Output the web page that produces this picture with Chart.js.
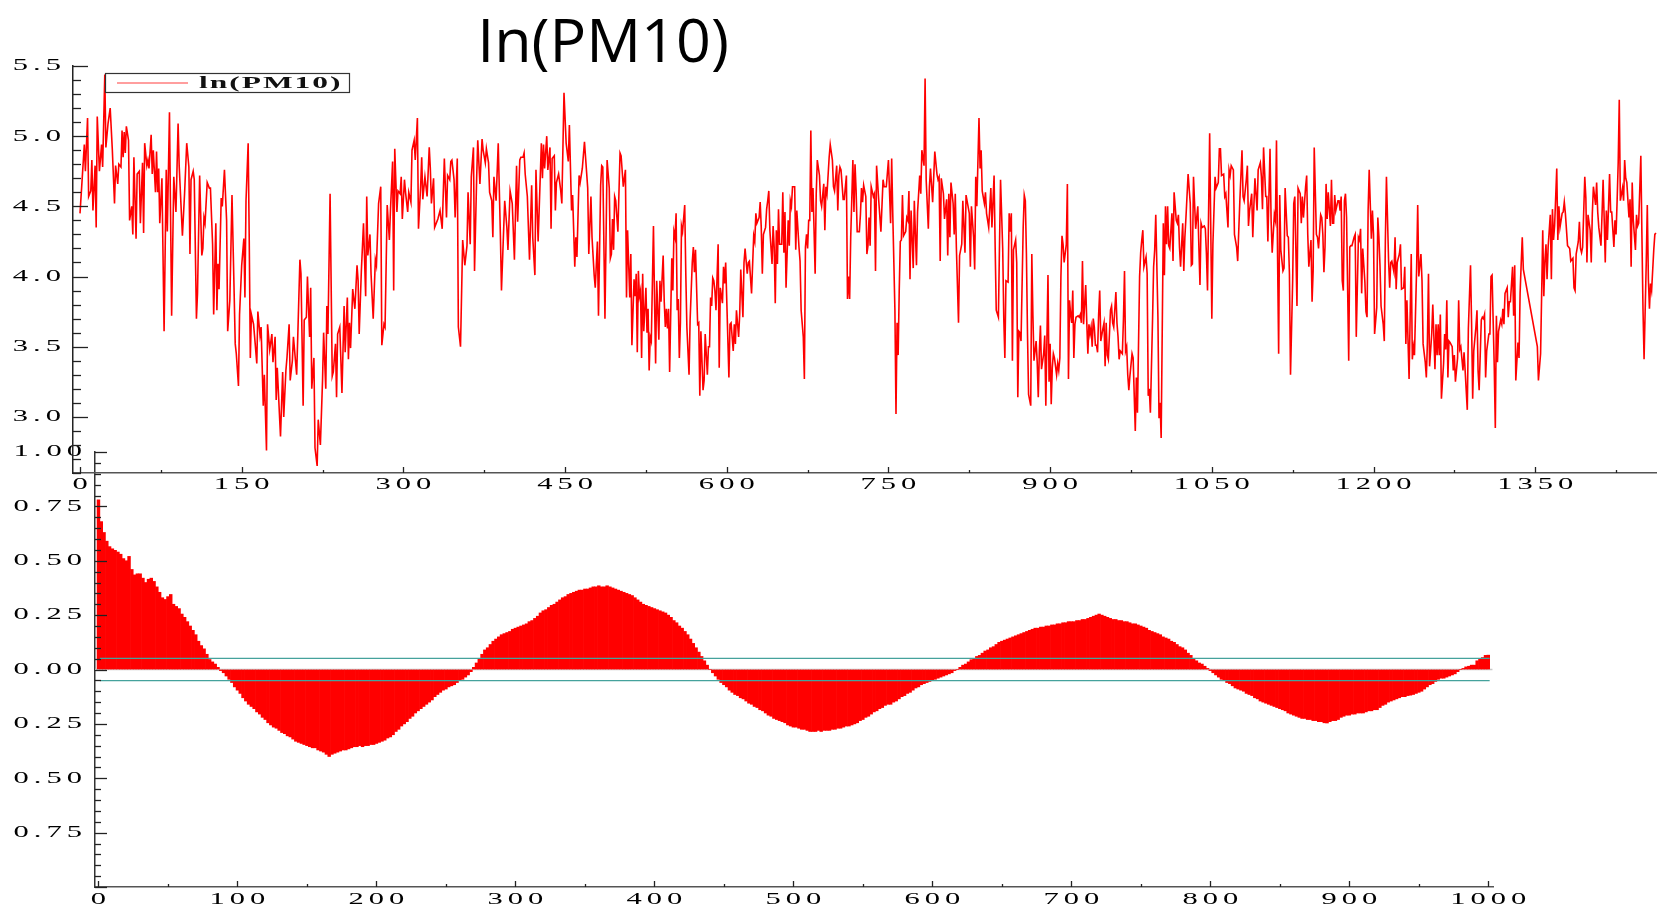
<!DOCTYPE html>
<html>
<head>
<meta charset="utf-8">
<title>In(PM10)</title>
<script src="https://cdn.jsdelivr.net/npm/chart.js@4.4.1/dist/chart.umd.min.js"></script>
<style>
  body { margin: 0; background: #fff; }
  #pagina { position: relative; width: 1657px; height: 911px; overflow: hidden; background: #fff; }
  #pagina canvas { position: absolute; left: 0; top: 0; }
  #titulo { position: absolute; left: 403px; top: 8px; width: 400px; text-align: center;
            font-family: "Open Sans", "Noto Sans", sans-serif; font-size: 61px; line-height: 61px; color: #000; }
</style>
</head>
<body>
<div id="pagina">
  <canvas id="graficoAcf" width="1657" height="911"></canvas>
  <canvas id="graficoSerie" width="1657" height="911"></canvas>
  <div id="titulo">In(PM10)</div>
</div>
<script>
// Série diária ln(PM10)
const dias = [0,4,5,7,8,10,11,12,14,15,16,18,20,21,23,24,26,28,30,32,33,35,36,38,39,40,41,42,43,45,46,48,49,50,52,53,55,56,58,59,60,62,63,64,66,67,68,70,71,72,73,74,76,78,80,81,83,85,87,89,91,92,95,97,99,101,102,103,105,106,108,109,111,113,114,115,116,118,120,121,123,124,126,127,128,129,131,132,134,136,137,139,141,143,144,145,147,148,150,152,153,154,156,157,158,159,161,162,164,165,167,168,170,171,173,174,176,178,179,181,182,183,185,186,188,189,191,192,194,195,197,198,201,202,204,205,207,208,210,211,213,214,215,217,218,220,221,223,225,226,228,229,230,232,234,235,237,238,239,
241,243,245,246,248,249,250,251,253,255,257,258,259,261,263,265,266,267,269,270,272,274,275,277,279,280,282,283,285,287,288,290,291,292,294,295,297,298,299,301,302,304,305,307,308,310,311,313,314,316,317,318,320,322,324,325,326,328,329,332,334,336,338,340,341,343,344,345,347,348,350,351,353,355,357,359,360,362,363,365,366,368,369,371,373,374,376,377,379,380,382,383,384,386,388,390,391,393,394,396,397,399,401,403,405,406,408,409,411,412,413,415,417,419,420,422,423,425,428,429,430,431,433,434,436,437,438,440,441,442,444,446,447,449,451,453,454,456,457,459,460,461,463,464,466,468,469,471,472,474,475,477,478,480,481,483,
484,485,487,489,491,492,493,494,495,496,497,499,501,502,503,504,506,507,508,510,511,512,514,515,516,517,518,519,520,521,522,523,525,526,527,528,529,530,532,533,534,535,537,538,539,541,542,543,544,545,546,547,549,550,551,552,553,554,555,556,557,558,559,561,562,563,565,566,568,569,570,571,573,574,575,576,578,579,580,582,583,584,585,586,587,588,589,590,592,593,594,596,597,598,599,600,602,603,604,606,607,608,609,611,612,613,615,616,617,619,620,621,623,625,626,627,628,630,631,632,633,634,636,637,638,639,640,642,643,644,645,646,647,648,649,651,652,653,654,655,657,658,659,660,661,663,664,665,667,668,669,671,672,673,674,675,676,677,678,679,680,682,683,684,686,687,688,690,691,692,693,695,696,698,699,700,702,703,704,705,706,708,709,711,712,713,714,715,717,718,719,720,721,723,724,725,726,
727,729,730,731,732,733,734,736,737,738,739,741,743,745,746,748,750,752,753,754,756,757,758,759,760,761,762,763,764,766,767,768,769,770,771,773,774,776,777,779,780,781,783,784,785,787,788,789,791,793,795,796,797,798,799,801,802,804,805,806,807,808,810,811,812,813,815,816,818,819,821,822,825,826,827,829,830,831,832,834,835,836,837,839,840,841,843,845,846,848,849,850,852,853,854,856,857,858,859,861,862,863,864,865,866,868,869,870,871,872,873,875,876,877,878,879,880,882,883,884,885,887,888,889,890,891,892,894,895,896,898,899,900,901,902,903,904,906,907,908,909,910,911,912,913,915,916,917,918,919,920,921,922,923,924,926,927,928,929,930,931,933,934,935,936,937,938,939,940,941,942,943,944,945,946,947,949,950,951,952,953,954,956,957,958,959,961,962,963,964,965,967,968,969,
970,971,972,973,974,976,977,979,980,981,983,984,985,986,987,989,990,991,992,993,995,996,997,998,1000,1001,1002,1003,1005,1006,1007,1008,1009,1010,1011,1013,1014,1015,1017,1018,1019,1020,1021,1023,1024,1025,1026,1028,1030,1031,1032,1033,1034,1035,1037,1038,1039,1040,1041,1043,1044,1045,1046,1048,1050,1051,1053,1054,1056,1057,1058,1059,1061,1062,1063,1065,1066,1067,1068,1070,1071,1073,1074,1075,1076,1078,1079,1080,1082,1083,1084,1085,1087,1088,1089,1090,1092,1093,1095,1096,1097,1098,1100,1101,1102,1104,1105,1106,1108,1109,1110,1111,1112,1113,1114,1116,1117,1118,1120,1121,1122,1123,1125,1126,1127,1129,1130,1132,1133,1134,1135,1137,1138,1139,1140,1142,1143,1144,1145,1147,1148,1149,1151,1152,1153,1154,1155,1156,1157,1158,1160,1161,1162,1163,1164,1165,1167,1168,1169,1170,1171,1172,1173,1174,1175,1177,1178,1179,1180,1182,1183,1184,1186,1187,1188,1189,1190,1192,1193,1194,1195,1196,1198,1199,1200,1201,1203,1204,1205,1206,1207,1209,1210,1211,1212,
1214,1215,1216,1217,1219,1220,1221,1222,1224,1225,1226,1228,1229,1230,1231,1233,1235,1236,1237,1238,1240,1241,1242,1244,1245,1246,1248,1249,1250,1251,1252,1254,1255,1257,1258,1259,1260,1261,1262,1263,1265,1266,1267,1268,1269,1270,1271,1273,1274,1275,1276,1278,1279,1280,1281,1283,1284,1285,1287,1288,1290,1291,1292,1293,1295,1296,1297,1298,1300,1301,1302,1303,1304,1305,1307,1308,1309,1310,1312,1313,1314,1315,1316,1318,1319,1320,1321,1322,1324,1325,1326,1327,1329,1330,1331,1332,1334,1335,1336,1337,1338,1339,1352,1353,1355,1356,1357,1358,1359,1360,1361,1362,1364,1365,1366,1367,1368,1370,1371,1372,1373,1375,1376,1377,1378,1380,1381,1382,1383,1385,1386,1387,1388,1390,1391,1392,1393,1394,1396,1397,1398,1399,1401,1402,1403,1404,1406,1407,1408,1409,1411,1412,1413,1414,1415,1416,1417,1419,1420,1421,1423,1424,1425,1426,1427,1428,1429,1431,1432,1433,1434,1435,1437,1438,1439,1440,1441,1443,1444,1445,1446,1448,1449,1450,1451,1453,1454,1455,1456,1457,1458,1460,1461,1462];

const lnPm10 = [4.45,4.94,4.75,5.13,4.57,4.61,4.83,4.47,4.79,4.35,5.14,4.75,4.94,4.78,5.44,4.92,5.09,5.20,4.90,4.52,4.79,4.66,4.80,4.78,5.04,4.85,5.03,4.88,5.07,4.97,4.40,4.50,4.30,4.85,4.27,4.73,4.75,4.38,4.81,4.31,4.95,4.79,4.83,4.77,5.01,4.73,4.90,4.60,4.89,4.60,4.77,4.38,4.70,3.61,4.76,4.32,5.17,3.72,4.71,4.46,5.09,4.79,4.29,4.59,4.95,4.78,4.16,4.69,4.75,4.69,3.70,3.88,4.72,4.15,4.20,4.42,4.38,4.67,4.63,4.63,4.23,3.73,4.38,3.76,4.09,3.91,4.56,4.50,4.76,4.40,3.61,3.83,4.58,3.88,3.52,3.45,3.22,3.73,4.08,4.27,3.85,4.54,4.95,4.26,3.42,3.73,3.66,3.57,3.38,3.75,3.58,3.64,3.08,3.30,2.76,3.66,3.48,3.59,3.39,3.57,3.12,3.35,3.02,2.86,3.32,3.00,3.33,3.42,3.66,3.26,3.40,3.57,3.30,3.57,4.12,4.02,3.08,3.69,3.71,4.00,3.57,3.92,3.20,3.42,2.78,2.65,2.98,2.80,3.26,3.60,3.20,3.79,3.59,4.59,3.29,3.32,3.52,3.14,3.59,
3.64,3.17,3.79,3.46,3.85,3.41,3.67,3.49,3.91,3.77,4.08,3.97,3.59,4.04,4.38,3.86,4.57,4.15,4.30,4.02,3.70,4.12,4.08,4.52,4.64,3.51,3.66,3.64,4.51,4.26,4.47,4.82,3.90,4.91,4.46,4.61,4.59,4.71,4.41,4.69,4.60,4.46,4.60,4.53,4.90,4.97,4.83,5.13,4.34,4.64,4.85,4.55,4.71,4.57,4.92,4.77,4.52,4.70,4.35,4.41,4.47,4.34,4.84,4.42,4.72,4.69,4.82,4.83,4.69,4.42,4.84,3.64,3.50,4.26,4.08,4.22,4.60,4.23,4.71,4.92,4.04,4.71,4.97,4.66,4.98,4.90,4.81,4.91,4.81,4.60,4.54,4.28,4.71,4.54,4.95,4.29,3.90,4.33,4.54,4.35,4.19,4.61,4.52,4.12,4.79,4.39,4.83,4.85,4.85,4.88,4.73,4.57,4.12,4.65,4.28,4.01,4.76,4.25,4.95,4.70,4.94,4.77,5.00,4.76,4.92,4.34,4.84,4.86,4.47,4.67,4.73,4.61,4.52,5.31,4.95,4.82,5.08,4.47,4.58,4.07,4.28,4.14,4.72,4.67,4.77,4.96,4.85,4.63,4.16,4.57,4.28,4.01,3.92,4.25,3.72,4.65,
4.79,4.78,3.70,4.83,4.63,4.13,4.16,4.41,4.19,4.57,4.54,4.32,4.88,4.86,4.75,4.64,4.76,3.85,4.33,3.85,4.16,3.51,3.98,3.86,4.02,3.46,4.04,3.86,3.90,3.42,4.02,3.61,3.92,3.60,3.77,3.33,3.57,3.54,4.36,3.83,3.38,3.97,3.55,3.97,3.82,4.15,3.82,3.64,3.77,3.63,3.77,3.32,4.13,3.90,4.32,4.28,4.45,3.76,3.84,3.42,3.67,4.36,4.32,4.51,4.02,3.64,3.30,3.69,4.10,4.21,4.03,4.19,3.66,3.67,3.15,3.61,3.19,3.26,3.59,3.30,3.50,3.50,3.85,3.79,3.99,3.97,3.90,3.76,4.23,3.35,3.92,3.81,4.07,3.95,4.10,3.83,3.28,3.66,3.67,3.47,3.66,3.52,3.76,3.57,3.73,4.05,3.71,4.10,4.20,4.02,4.10,4.11,3.88,4.29,4.25,4.45,4.38,4.42,4.53,4.35,4.02,4.30,4.35,4.48,4.54,4.61,4.33,4.09,4.36,4.21,3.81,4.33,4.09,4.48,4.23,4.23,4.60,4.17,4.46,3.92,4.40,4.22,4.54,4.50,4.64,4.64,4.19,4.47,4.21,4.11,3.76,3.57,3.27,4.21,4.30,4.20,4.40,4.40,5.04,4.46,4.63,4.02,4.59,4.83,4.72,4.54,4.50,4.66,4.33,4.64,4.59,4.85,4.94,4.83,4.64,4.61,4.79,4.47,4.72,4.78,4.76,4.55,4.55,4.72,3.84,4.00,3.84,4.28,4.83,4.46,4.80,4.61,4.32,4.32,4.44,4.63,4.53,
4.65,4.57,4.16,4.22,4.42,4.22,4.64,4.57,4.59,4.04,4.79,4.54,4.32,4.69,4.64,4.64,4.83,4.38,4.84,4.45,3.76,3.02,3.67,3.44,3.90,4.25,4.26,4.58,4.29,4.32,4.42,4.40,4.61,3.98,4.47,4.06,4.54,4.08,4.46,4.72,4.59,4.90,4.79,5.41,4.69,4.34,4.64,4.77,4.53,4.89,4.73,4.69,4.71,4.11,4.70,4.59,4.41,4.55,4.15,4.59,4.28,4.67,4.52,4.30,4.59,4.21,3.67,4.15,4.23,4.54,4.17,4.58,4.45,4.07,4.50,4.28,4.05,4.71,4.50,5.13,4.77,4.90,4.61,4.52,4.60,4.45,4.35,4.63,4.35,4.72,4.21,3.76,3.71,4.21,4.69,4.20,3.70,3.42,3.97,3.96,4.45,4.32,4.45,3.40,4.19,4.26,4.10,3.14,3.61,3.60,3.54,4.35,4.58,4.54,4.16,3.59,3.16,3.08,4.16,3.73,3.40,3.54,3.39,3.14,3.47,3.65,3.34,3.45,3.58,3.08,4.01,3.25,3.52,3.09,3.35,3.45,3.42,3.30,3.38,3.33,3.42,4.00,4.29,4.23,4.10,4.23,4.66,3.27,3.83,3.73,3.67,3.90,3.42,3.66,3.71,3.72,3.71,3.73,3.67,4.11,3.66,3.94,3.67,3.45,3.66,3.59,3.64,3.50,3.70,3.64,3.51,3.51,3.46,3.73,3.90,3.54,3.63,3.67,3.36,3.67,3.44,3.41,3.76,3.79,3.67,3.64,3.89,3.67,3.57,3.41,3.47,3.45,3.69,4.04,
3.47,3.50,3.30,3.19,3.29,3.45,3.42,2.90,3.28,3.03,4.00,4.17,4.26,4.33,4.07,4.14,4.02,3.15,3.20,3.03,3.69,4.07,4.19,4.44,3.71,2.99,3.10,2.85,4.38,4.01,4.50,4.23,4.50,4.22,4.20,4.45,4.11,4.60,4.40,4.38,4.44,4.21,4.07,4.38,4.04,4.28,4.42,4.73,4.52,4.08,4.09,4.71,4.52,4.34,4.50,4.21,3.94,4.38,4.35,4.36,4.34,4.16,3.90,5.02,3.70,4.23,4.71,4.63,4.67,4.91,4.91,4.72,4.73,4.57,4.59,4.35,4.76,4.72,4.79,4.76,4.30,4.21,4.11,4.33,4.54,4.90,4.57,4.54,4.69,4.79,4.36,4.47,4.59,4.28,4.50,4.70,4.47,4.76,4.81,4.71,4.48,4.92,4.57,4.57,4.25,4.91,4.40,4.17,4.44,4.40,4.97,4.14,3.45,4.58,4.19,4.04,4.06,4.63,4.29,4.28,4.02,3.30,3.97,4.52,4.57,3.79,4.63,4.59,4.38,4.57,4.42,4.64,4.72,4.30,4.07,4.26,3.82,4.04,4.92,4.30,4.28,4.20,4.44,4.42,4.30,4.03,4.21,4.66,4.41,4.60,4.36,4.69,4.38,4.38,4.58,4.47,4.54,4.54,4.47,4.57,3.97,3.90,4.54,4.59,4.42,3.40,4.21,4.22,4.22,4.28,4.30,3.57,4.28,4.26,4.34,3.88,4.20,3.96,3.75,3.71,4.47,4.76,4.27,4.47,4.30,3.59,3.78,4.42,4.28,4.08,3.79,3.66,3.54,4.26,4.71,
4.11,3.92,4.10,4.11,4.03,4.28,3.91,4.10,4.16,4.23,3.91,3.92,4.07,3.52,3.83,3.27,4.16,3.41,3.50,3.44,4.06,4.51,4.00,4.16,3.97,3.52,3.39,3.28,3.53,4.02,3.36,3.59,3.80,3.34,3.66,3.44,3.66,3.44,3.73,3.13,3.38,3.59,3.48,3.83,3.28,3.54,3.53,3.50,3.33,3.44,3.25,3.42,3.83,3.48,3.50,3.33,3.46,3.33,3.05,3.63,4.08,3.66,3.13,3.47,3.64,3.76,3.33,3.19,3.69,3.71,3.70,3.73,3.28,3.47,3.59,3.59,4.00,4.01,3.36,2.92,3.72,3.39,3.61,3.69,3.66,3.77,3.66,3.88,3.92,3.71,3.82,3.82,4.07,3.72,4.08,3.26,3.53,3.42,3.88,4.09,4.28,4.05,3.50,3.26,3.45,3.88,4.33,3.86,4.11,4.23,3.98,4.21,4.44,3.98,4.48,4.26,4.36,4.77,4.26,4.50,4.35,4.45,4.46,4.53,4.45,4.22,4.21,4.20,4.11,4.13,3.92,3.90,4.16,4.25,4.39,4.20,4.17,4.21,4.71,4.56,4.10,4.44,4.33,4.10,4.45,4.64,4.51,4.67,4.46,4.35,4.22,4.44,4.69,4.41,4.10,4.47,4.26,4.73,4.46,4.46,4.21,4.40,4.30,4.54,4.81,5.26,4.54,4.63,4.54,4.83,4.70,4.67,4.42,4.55,4.07,4.67,4.40,4.19,4.44,4.36,4.38,4.86,4.30,3.77,3.41,4.09,4.51,3.98,3.77,3.95,3.90,4.19,4.30,4.31];

// Autocorrelação (FAC) por defasagem, de 2 em 2
const lags = [0,2,4,6,8,10,12,14,16,18,20,22,24,26,28,30,32,34,36,38,40,42,44,46,48,50,52,54,56,58,60,62,64,66,68,70,72,74,76,78,80,82,84,86,88,90,92,94,96,98,
100,102,104,106,108,110,112,114,116,118,120,122,124,126,128,130,132,134,136,138,140,142,144,146,148,150,152,154,156,158,160,162,164,166,168,170,172,174,176,178,180,182,184,186,188,190,192,194,196,198,
200,202,204,206,208,210,212,214,216,218,220,222,224,226,228,230,232,234,236,238,240,242,244,246,248,250,252,254,256,258,260,262,264,266,268,270,272,274,276,278,280,282,284,286,288,290,292,294,296,298,
300,302,304,306,308,310,312,314,316,318,320,322,324,326,328,330,332,334,336,338,340,342,344,346,348,350,352,354,356,358,360,362,364,366,368,370,372,374,376,378,380,382,384,386,388,390,392,394,396,398,
400,402,404,406,408,410,412,414,416,418,420,422,424,426,428,430,432,434,436,438,440,442,444,446,448,450,452,454,456,458,460,462,464,466,468,470,472,474,476,478,480,482,484,486,488,490,492,494,496,498,
500,502,504,506,508,510,512,514,516,518,520,522,524,526,528,530,532,534,536,538,540,542,544,546,548,550,552,554,556,558,560,562,564,566,568,570,572,574,576,578,580,582,584,586,588,590,592,594,596,598,
600,602,604,606,608,610,612,614,616,618,620,622,624,626,628,630,632,634,636,638,640,642,644,646,648,650,652,654,656,658,660,662,664,666,668,670,672,674,676,678,680,682,684,686,688,690,692,694,696,698,
700,702,704,706,708,710,712,714,716,718,720,722,724,726,728,730,732,734,736,738,740,742,744,746,748,750,752,754,756,758,760,762,764,766,768,770,772,774,776,778,780,782,784,786,788,790,792,794,796,798,
800,802,804,806,808,810,812,814,816,818,820,822,824,826,828,830,832,834,836,838,840,842,844,846,848,850,852,854,856,858,860,862,864,866,868,870,872,874,876,878,880,882,884,886,888,890,892,894,896,898,
900,902,904,906,908,910,912,914,916,918,920,922,924,926,928,930,932,934,936,938,940,942,944,946,948,950,952,954,956,958,960,962,964,966,968,970,972,974,976,978,980,982,984,986,988,990,992,994,996,998,1000];

const acf = [0.78,0.68,0.63,0.59,0.565,0.555,0.548,0.54,0.53,0.51,
0.50,0.52,0.46,0.435,0.44,0.44,0.42,0.40,0.415,0.42,
0.405,0.38,0.355,0.33,0.322,0.335,0.345,0.30,0.29,0.28,
0.255,0.24,0.22,0.20,0.18,0.16,0.13,0.11,0.095,0.07,
0.046,0.035,0.025,0.01,-0.005,-0.015,-0.03,-0.045,-0.06,-0.08,
-0.095,-0.11,-0.13,-0.145,-0.16,-0.17,-0.18,-0.195,-0.205,-0.22,
-0.23,-0.245,-0.255,-0.265,-0.27,-0.28,-0.29,-0.295,-0.305,-0.31,
-0.32,-0.33,-0.335,-0.34,-0.345,-0.35,-0.355,-0.36,-0.36,-0.37,
-0.375,-0.38,-0.39,-0.40,-0.39,-0.385,-0.38,-0.375,-0.37,-0.37,
-0.365,-0.36,-0.355,-0.355,-0.35,-0.355,-0.35,-0.35,-0.345,-0.345,
-0.34,-0.335,-0.33,-0.325,-0.315,-0.31,-0.30,-0.285,-0.275,-0.26,
-0.25,-0.24,-0.225,-0.215,-0.20,-0.19,-0.18,-0.17,-0.16,-0.15,
-0.14,-0.125,-0.115,-0.105,-0.095,-0.09,-0.08,-0.075,-0.07,-0.06,
-0.05,-0.045,-0.035,-0.025,-0.01,0.01,0.03,0.05,0.07,0.09,
0.10,0.115,0.13,0.14,0.15,0.16,0.165,0.17,0.175,0.185,
0.19,0.195,0.20,0.205,0.21,0.22,0.225,0.235,0.245,0.26,
0.27,0.275,0.285,0.295,0.30,0.31,0.32,0.33,0.335,0.345,
0.35,0.355,0.36,0.365,0.365,0.37,0.37,0.375,0.38,0.38,
0.385,0.38,0.38,0.385,0.38,0.375,0.37,0.365,0.36,0.355,
0.35,0.345,0.34,0.33,0.32,0.31,0.30,0.295,0.29,0.285,
0.28,0.275,0.27,0.265,0.26,0.25,0.24,0.225,0.215,0.20,
0.19,0.175,0.16,0.14,0.12,0.10,0.08,0.06,0.04,0.02,
0.0,-0.015,-0.03,-0.045,-0.06,-0.07,-0.08,-0.095,-0.105,-0.115,
-0.12,-0.13,-0.135,-0.145,-0.155,-0.16,-0.17,-0.175,-0.185,-0.19,
-0.20,-0.21,-0.215,-0.225,-0.23,-0.235,-0.24,-0.245,-0.255,-0.26,
-0.265,-0.265,-0.27,-0.275,-0.275,-0.28,-0.285,-0.285,-0.285,-0.28,
-0.285,-0.28,-0.28,-0.28,-0.275,-0.275,-0.27,-0.27,-0.265,-0.26,
-0.26,-0.255,-0.25,-0.245,-0.235,-0.23,-0.22,-0.215,-0.205,-0.195,
-0.19,-0.18,-0.175,-0.165,-0.16,-0.16,-0.15,-0.145,-0.135,-0.125,
-0.12,-0.11,-0.105,-0.095,-0.085,-0.08,-0.07,-0.065,-0.06,-0.055,
-0.05,-0.045,-0.04,-0.035,-0.03,-0.025,-0.02,-0.015,-0.005,0.0,
0.01,0.02,0.025,0.035,0.045,0.05,0.06,0.065,0.075,0.085,
0.09,0.10,0.105,0.115,0.125,0.13,0.135,0.14,0.145,0.15,
0.155,0.16,0.165,0.17,0.175,0.18,0.185,0.19,0.19,0.195,
0.195,0.20,0.20,0.205,0.205,0.21,0.21,0.215,0.215,0.22,
0.22,0.22,0.225,0.225,0.23,0.23,0.235,0.24,0.245,0.25,
0.255,0.25,0.245,0.24,0.235,0.23,0.23,0.225,0.225,0.22,
0.22,0.215,0.21,0.21,0.205,0.20,0.195,0.19,0.18,0.175,
0.17,0.165,0.16,0.15,0.145,0.14,0.13,0.125,0.115,0.105,
0.10,0.09,0.075,0.065,0.05,0.04,0.03,0.025,0.015,0.005,
-0.005,-0.015,-0.025,-0.035,-0.045,-0.05,-0.06,-0.065,-0.075,-0.085,
-0.09,-0.095,-0.10,-0.11,-0.115,-0.12,-0.13,-0.135,-0.145,-0.15,
-0.155,-0.16,-0.165,-0.17,-0.175,-0.18,-0.185,-0.19,-0.2,-0.205,
-0.21,-0.215,-0.22,-0.225,-0.225,-0.23,-0.23,-0.235,-0.235,-0.24,
-0.24,-0.245,-0.246,-0.24,-0.235,-0.235,-0.23,-0.22,-0.215,-0.21,
-0.21,-0.205,-0.205,-0.2,-0.2,-0.2,-0.195,-0.19,-0.19,-0.185,
-0.185,-0.175,-0.165,-0.16,-0.15,-0.145,-0.14,-0.135,-0.13,-0.125,
-0.125,-0.12,-0.118,-0.115,-0.11,-0.105,-0.1,-0.09,-0.08,-0.07,
-0.065,-0.055,-0.045,-0.04,-0.04,-0.035,-0.03,-0.025,-0.02,-0.01,
0.0,0.005,0.012,0.015,0.02,0.02,0.04,0.05,0.055,0.065,
0.066];

// rótulos dos eixos
const ticksSerieX = [0,150,300,450,600,750,900,1050,1200,1350];
const ticksSerieY = [3.0,3.5,4.0,4.5,5.0,5.5];
const ticksAcfX = [0,100,200,300,400,500,600,700,800,900,1000];
const ticksAcfY = [-0.75,-0.5,-0.25,0,0.25,0.5,0.75,1.0];

const limiteConfianca = 0.0513;

// texto das escalas esticado na horizontal, como no original
function esticarTexto(ctx){
    const original = ctx.fillText.bind(ctx);
    ctx.espacoTexto = 5;
    ctx.escalaTexto = 1.85;
    ctx.fillText = function(texto, x, y){
        const letras = Array.from(String(texto));
        const escala = ctx.escalaTexto;
        const espaco = ctx.espacoTexto;
        const larguras = letras.map(c => ctx.measureText(c).width * escala);
        const total = larguras.reduce((a, b) => a + b, 0) + espaco * (letras.length - 1);
        let inicio = x;
        if(ctx.textAlign === 'right' || ctx.textAlign === 'end') inicio = x - total;
        else if(ctx.textAlign === 'center') inicio = x - total / 2;
        ctx.save();
        ctx.textAlign = 'left';
        let cx = inicio;
        letras.forEach((c, i) => {
            ctx.save();
            ctx.translate(cx, y);
            ctx.scale(escala, 1);
            original(c, 0, 0);
            ctx.restore();
            cx += larguras[i] + espaco;
        });
        ctx.restore();
    };
}

// marcas dos eixos voltadas para dentro (maiores e menores)
const ticksInternos = {
    id: 'ticksInternos',
    afterDatasetsDraw(chart, args, opts){
        const ctx = chart.ctx;
        ctx.save();
        ctx.strokeStyle = '#222';
        ctx.lineWidth = 1.3;
        ['x', 'y'].forEach(id => {
            const s = chart.scales[id];
            const o = opts[id];
            const inicio = Math.ceil(s.min / o.menor - 1e-9);
            const fim = Math.floor(s.max / o.menor + 1e-9);
            for(let k = inicio; k <= fim; k++){
                const v = k * o.menor;
                const r = v / o.maior;
                const maior = Math.abs(r - Math.round(r)) < 1e-6;
                const comp = maior ? o.compMaior : o.compMenor;
                const p = Math.round(s.getPixelForValue(v)) + 0.5;
                ctx.beginPath();
                if(id === 'x'){
                    ctx.moveTo(p, s.top);
                    ctx.lineTo(p, s.top - comp);
                } else {
                    ctx.moveTo(s.right, p);
                    ctx.lineTo(s.right + comp, p);
                }
                ctx.stroke();
            }
        });
        ctx.restore();
    }
};

// legenda com caixa dentro da área do gráfico
const legendaCaixa = {
    id: 'legendaCaixa',
    afterDraw(chart, args, opts){
        if(!opts.mostrar) return;
        const ctx = chart.ctx;
        const area = chart.chartArea;
        const ds = chart.data.datasets[0];
        const x = area.left + 32, y = area.top + 7, w = 244, h = 19;
        ctx.save();
        ctx.strokeStyle = '#333';
        ctx.lineWidth = 1.2;
        ctx.strokeRect(x + 0.5, y + 0.5, w, h);
        ctx.strokeStyle = 'rgba(255,40,40,0.9)';
        ctx.lineWidth = 1;
        ctx.beginPath();
        ctx.moveTo(x + 12, y + h / 2 + 0.5);
        ctx.lineTo(x + 83, y + h / 2 + 0.5);
        ctx.stroke();
        ctx.fillStyle = '#111';
        ctx.font = 'bold 17px "Liberation Serif", serif';
        ctx.textAlign = 'left';
        ctx.textBaseline = 'middle';
        ctx.espacoTexto = 2;
        ctx.fillText(ds.label, x + 94, y + h / 2 + 1);
        ctx.espacoTexto = 5;
        ctx.restore();
    }
};

const fonteEixo = { family: '"Liberation Serif", "Times New Roman", serif', size: 16.5 };

function fixarTicks(valores){
    return s => { s.ticks = valores.map(v => ({ value: v })); };
}

function plotarAcf(){
    const canvas = document.getElementById('graficoAcf');
    esticarTexto(canvas.getContext('2d'));

    const barras = lags.map((l, i) => ({ x: l, y: acf[i] }));

    new Chart(canvas, {
        type: 'bar',
        data: {
            datasets: [
                {
                    type: 'line', label: 'limite superior', order: 0,
                    data: [{ x: 1, y: limiteConfianca }, { x: 1001, y: limiteConfianca }],
                    borderColor: '#45a29c', borderWidth: 1.3, pointRadius: 0
                },
                {
                    type: 'line', label: 'limite inferior', order: 0,
                    data: [{ x: 1, y: -limiteConfianca }, { x: 1001, y: -limiteConfianca }],
                    borderColor: '#45a29c', borderWidth: 1.3, pointRadius: 0
                },
                {
                    type: 'bar', label: 'FAC', order: 1,
                    data: barras,
                    backgroundColor: '#ff0000',
                    borderWidth: 0,
                    categoryPercentage: 1,
                    barPercentage: 1
                },
                {
                    type: 'line', label: 'zero', order: 2,
                    data: [{ x: -2.5, y: 0 }, { x: 1003, y: 0 }],
                    borderColor: '#c8c8c8', borderWidth: 1.5, pointRadius: 0
                }
            ]
        },
        options: {
            responsive: false,
            animation: false,
            devicePixelRatio: 1,
            layout: { padding: { top: 452, right: 164, left: 0, bottom: 0 } },
            plugins: {
                legend: { display: false },
                tooltip: { enabled: false },
                ticksInternos: {
                    x: { maior: 100, menor: 50, compMaior: 6, compMenor: 3 },
                    y: { maior: 0.25, menor: 0.05, compMaior: 12, compMenor: 6 }
                },
                legendaCaixa: { mostrar: false }
            },
            scales: {
                x: {
                    type: 'linear', min: -2.5, max: 1003.4, offset: false,
                    afterBuildTicks: fixarTicks(ticksAcfX),
                    afterFit: s => { s.height = 24; },
                    grid: { display: true, drawOnChartArea: false, drawTicks: false, offset: false },
                    border: { color: '#555', width: 1.5 },
                    ticks: {
                        autoSkip: false, maxRotation: 0, minRotation: 0,
                        padding: 3, color: '#000', font: fonteEixo,
                        callback: v => String(v)
                    }
                },
                y: {
                    min: -1, max: 1,
                    afterBuildTicks: fixarTicks(ticksAcfY),
                    afterFit: s => { s.width = 95; },
                    grid: { display: true, drawOnChartArea: false, drawTicks: false },
                    border: { color: '#333', width: 1.5 },
                    ticks: {
                        autoSkip: false, padding: 13, color: '#000', font: fonteEixo,
                        callback: v => Math.abs(v).toFixed(2)
                    }
                }
            }
        },
        plugins: [ticksInternos]
    });
}

function plotarSerie(){
    const canvas = document.getElementById('graficoSerie');
    esticarTexto(canvas.getContext('2d'));

    const pontos = dias.map((d, i) => ({ x: d, y: lnPm10[i] }));

    new Chart(canvas, {
        type: 'line',
        data: {
            datasets: [{
                label: 'ln(PM10)',
                data: pontos,
                borderColor: '#ff0000',
                borderWidth: 1.6,
                pointRadius: 0,
                tension: 0,
                fill: false
            }]
        },
        options: {
            responsive: false,
            animation: false,
            devicePixelRatio: 1,
            layout: { padding: { top: 66, right: 0, left: 0, bottom: 0 } },
            plugins: {
                legend: { display: false },
                tooltip: { enabled: false },
                ticksInternos: {
                    x: { maior: 150, menor: 75, compMaior: 6, compMenor: 3 },
                    y: { maior: 0.5, menor: 0.1, compMaior: 15, compMenor: 8 }
                },
                legendaCaixa: { mostrar: true }
            },
            scales: {
                x: {
                    type: 'linear', min: -6.5, max: 1463,
                    afterBuildTicks: fixarTicks(ticksSerieX),
                    afterFit: s => { s.height = 438; },
                    grid: { display: true, drawOnChartArea: false, drawTicks: false },
                    border: { color: '#555', width: 1.5 },
                    ticks: {
                        autoSkip: false, maxRotation: 0, minRotation: 0,
                        padding: 1.5, color: '#000', font: fonteEixo,
                        callback: v => String(v)
                    }
                },
                y: {
                    min: 2.6, max: 5.5,
                    afterBuildTicks: fixarTicks(ticksSerieY),
                    afterFit: s => { s.width = 73; },
                    grid: { display: true, drawOnChartArea: false, drawTicks: false },
                    border: { color: '#222', width: 1.5 },
                    ticks: {
                        autoSkip: false, padding: 12, color: '#000', font: fonteEixo,
                        callback: v => v.toFixed(1)
                    }
                }
            }
        },
        plugins: [ticksInternos, legendaCaixa]
    });
}

window.onload = () => {
    plotarAcf();
    plotarSerie();
};
</script>
</body>
</html>
